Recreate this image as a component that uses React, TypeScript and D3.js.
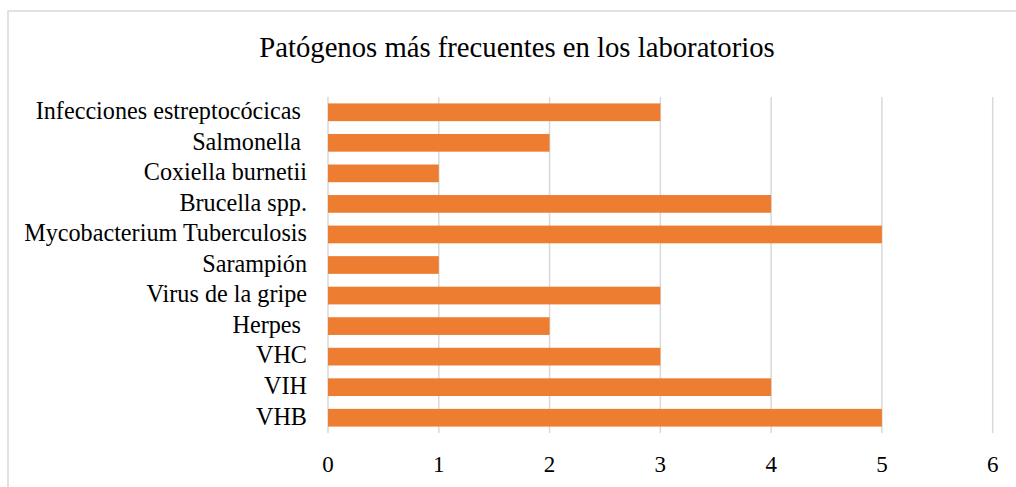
import { useEffect, useRef } from "react";
import * as d3 from "d3";

const categories = [
  "Infecciones estreptocócicas ",
  "Salmonella ",
  "Coxiella burnetii",
  "Brucella spp.",
  "Mycobacterium Tuberculosis",
  "Sarampión",
  "Virus de la gripe",
  "Herpes ",
  "VHC",
  "VIH",
  "VHB",
];
const values = [3, 2, 1, 4, 5, 1, 3, 2, 3, 4, 5];
const ticks = [0, 1, 2, 3, 4, 5, 6];
const title = "Patógenos más frecuentes en los laboratorios";

export default function App() {
  const ref = useRef<SVGSVGElement>(null);

  useEffect(() => {
    if (!ref.current) return;
    const width = 1016;
    const height = 487;
    const svg = d3.select(ref.current);
    svg.selectAll("*").remove();

    const font = "Liberation Serif, Times New Roman, serif";

    // chart frame (cut off at right and bottom)
    svg.append("path")
      .attr("d", `M8,${height} L8,11 L${width},11`)
      .attr("fill", "none")
      .attr("stroke", "#d9d9d9")
      .attr("stroke-width", 1.5);

    svg.append("text")
      .attr("x", 517)
      .attr("y", 57)
      .attr("text-anchor", "middle")
      .style("font-family", font)
      .style("font-size", "28.7px")
      .attr("fill", "#000")
      .text(title);

    const x = d3.scaleLinear().domain([0, 6]).range([328, 992.7]);
    const y = d3.scaleBand<string>().domain(categories).range([97, 433]).paddingInner(0.42).paddingOuter(0.21);

    const g = svg.append("g");

    g.selectAll("line.grid")
      .data(ticks)
      .enter()
      .append("line")
      .attr("class", "grid")
      .attr("x1", (d) => x(d))
      .attr("x2", (d) => x(d))
      .attr("y1", 97)
      .attr("y2", 433)
      .attr("stroke", "#d9d9d9")
      .attr("stroke-width", 1.5);

    g.selectAll("rect.bar")
      .data(values)
      .enter()
      .append("rect")
      .attr("class", "bar")
      .attr("x", x(0))
      .attr("y", (_d, i) => y(categories[i]) as number)
      .attr("width", (d) => x(d) - x(0))
      .attr("height", y.bandwidth())
      .attr("fill", "#ed7d31");

    g.selectAll("text.cat")
      .data(categories)
      .enter()
      .append("text")
      .attr("class", "cat")
      .attr("x", 307)
      .attr("y", (d) => (y(d) as number) + y.bandwidth() / 2)
      .attr("dy", "0.28em")
      .attr("text-anchor", "end")
      .style("font-family", font)
      .style("font-size", "24.2px")
      .attr("fill", "#000")
      .style("white-space", "pre")
      .text((d) => d);

    g.selectAll("text.tick")
      .data(ticks)
      .enter()
      .append("text")
      .attr("class", "tick")
      .attr("x", (d) => x(d))
      .attr("y", 472)
      .attr("text-anchor", "middle")
      .style("font-family", font)
      .style("font-size", "23px")
      .attr("fill", "#000")
      .text((d) => d);
  }, []);

  return (
    <svg
      ref={ref}
      width={1016}
      height={487}
      style={{ position: "absolute", left: 0, top: 0, background: "#fff" }}
    />
  );
}
